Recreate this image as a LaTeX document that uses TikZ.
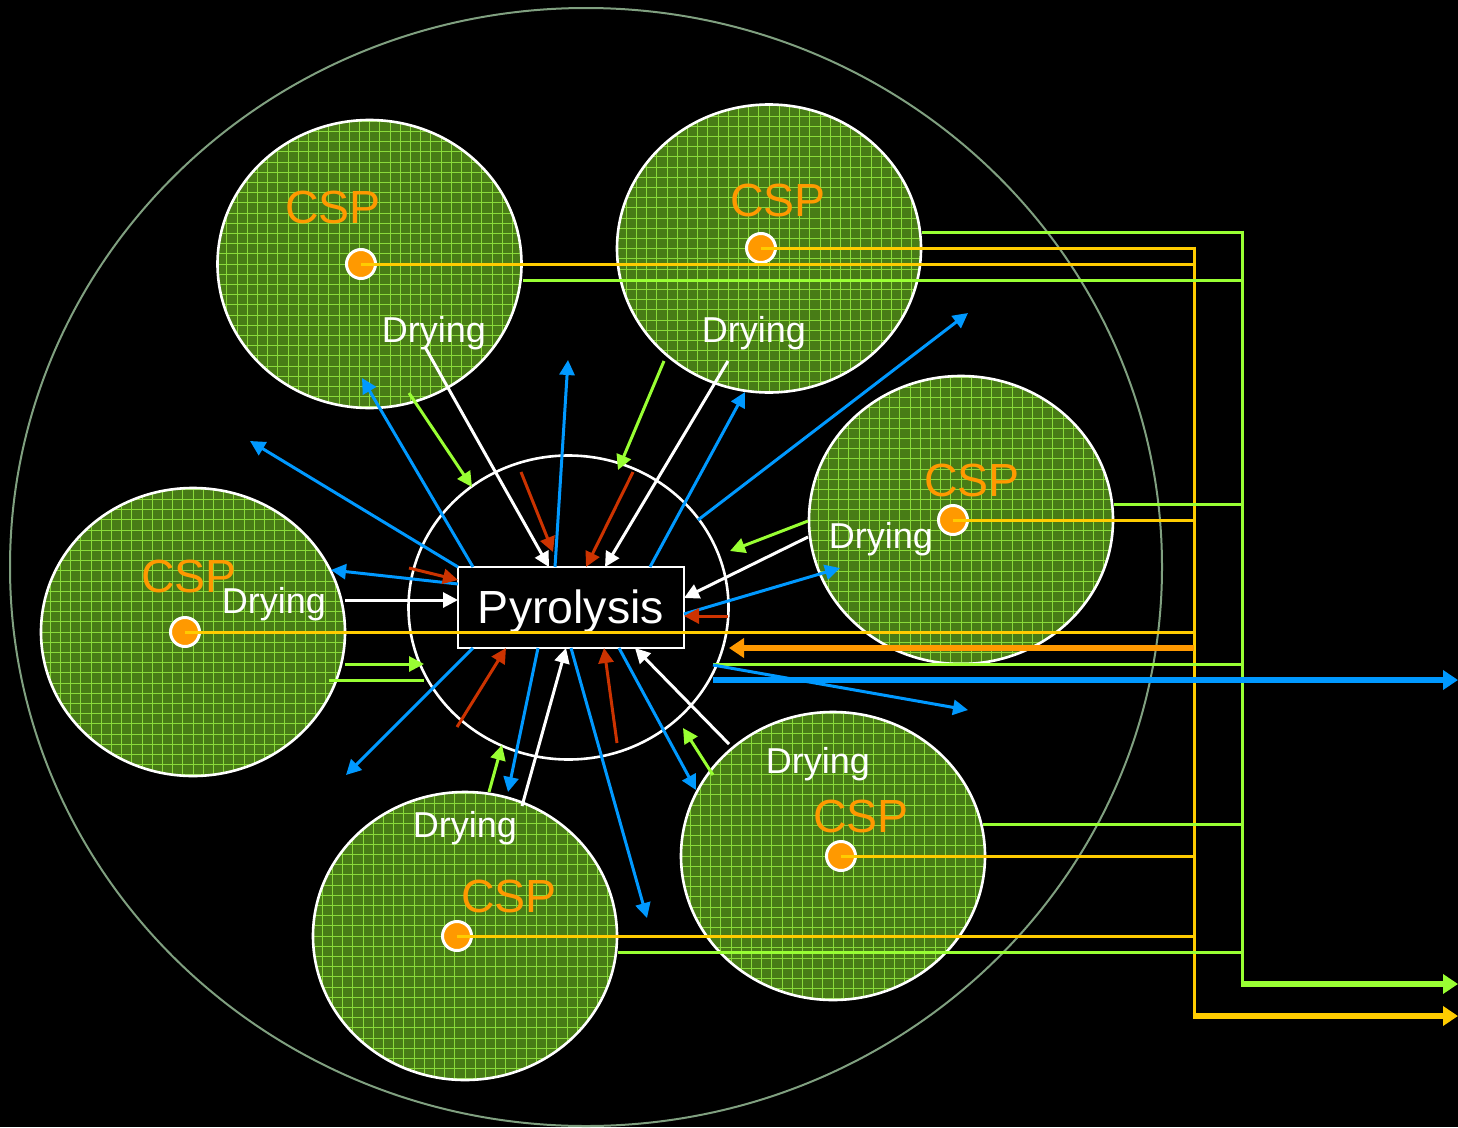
\documentclass[tikz,border=0pt]{standalone}
\usepackage{fontspec}
\setmainfont{Liberation Sans}
\usetikzlibrary{arrows.meta,shapes.geometric}
\definecolor{cspor}{RGB}{255,153,0}
\definecolor{pipey}{RGB}{255,204,0}
\definecolor{lgreen}{RGB}{153,255,51}
\definecolor{fblue}{RGB}{0,153,255}
\definecolor{fred}{RGB}{204,51,0}
\definecolor{ufill}{RGB}{72,124,22}
\definecolor{ugrid}{RGB}{138,218,58}
\definecolor{rim}{RGB}{128,160,128}

\begin{document}
\begin{tikzpicture}[x=1pt,y=-1pt,
  unit/.style={ellipse, draw=white, line width=2.6pt, fill=ufill,
    minimum width=304pt, minimum height=288pt, inner sep=0pt,
    path picture={\draw[ugrid, line width=0.8pt, step=10.2pt]
      (path picture bounding box.south west) grid (path picture bounding box.north east);}},
  dotnode/.style={circle, fill=cspor, draw=white, line width=3pt, minimum size=29pt, inner sep=0pt},
  csp/.style={text=cspor, font=\fontsize{46.5}{50}\selectfont, anchor=base, inner sep=0pt},
  dry/.style={text=white, font=\fontsize{36}{40}\selectfont, anchor=base, inner sep=0pt},
  arrowhd/.style={-{Triangle[length=15pt,width=15pt]}},
  bigarrowhd/.style={-{Triangle[length=15pt,width=19pt]}},
  bflow/.style={draw=fblue, line width=3pt, arrowhd},
  wflow/.style={draw=white, line width=3pt, arrowhd},
  rflow/.style={draw=fred, line width=3pt, arrowhd},
  gflow/.style={draw=lgreen, line width=3pt, arrowhd},
  gline/.style={draw=lgreen, line width=3pt},
  ypipe/.style={draw=pipey, line width=3pt},
  gpipe/.style={draw=lgreen, line width=3pt},
  ythick/.style={draw=pipey, line width=5.5pt, bigarrowhd},
  gthick/.style={draw=lgreen, line width=5.5pt, bigarrowhd},
  othick/.style={draw=cspor, line width=5.5pt, bigarrowhd},
  bthick/.style={draw=fblue, line width=5.5pt, bigarrowhd}]

% canvas
\useasboundingbox (0,0) rectangle (1458,1127);
\fill[black] (0,0) rectangle (1458,1127);

% plant boundary
\node[ellipse, draw=rim, line width=2pt, minimum width=1152pt, minimum height=1118pt, inner sep=0pt] (site) at (586,567) {};

% solar units
\node[unit] (c1) at (369.5,264) {};
\node[unit] (c2) at (769,248.5) {};
\node[unit] (c3) at (961,520) {};
\node[unit] (c4) at (193,632) {};
\node[unit] (c5) at (465,936) {};
\node[unit] (c6) at (833,856) {};

% unit labels
\node[csp] (csp1) at (333,223) {CSP};
\node[csp] (csp2) at (778,216) {CSP};
\node[csp] (csp3) at (972,496) {CSP};
\node[csp] (csp4) at (189,592) {CSP};
\node[csp] (csp5) at (509,912) {CSP};
\node[csp] (csp6) at (861,832) {CSP};
\node[dry] (dry1) at (434,342) {Drying};
\node[dry] (dry2) at (754,342) {Drying};
\node[dry] (dry3) at (881,548) {Drying};
\node[dry] (dry4) at (274,613) {Drying};
\node[dry] (dry5) at (465,837) {Drying};
\node[dry] (dry6) at (818,773) {Drying};

% pyrolysis zone and reactor
\node[ellipse, draw=white, line width=2.6pt, minimum width=320pt, minimum height=304pt, inner sep=0pt] (ring) at (568.5,607.5) {};
\node[draw=white, fill=black, line width=2.7pt, minimum width=226pt, minimum height=81pt,
      inner sep=0pt, outer sep=0pt, text=white, font=\fontsize{46.5}{50}\selectfont,
      text height=33pt, text depth=2pt] (pyro) at (571,607.5) {Pyrolysis};

% receivers
\node[dotnode] (d1) at (361,264) {};
\node[dotnode] (d2) at (761,248) {};
\node[dotnode] (d3) at (953,520) {};
\node[dotnode] (d4) at (185,632) {};
\node[dotnode] (d5) at (457,936) {};
\node[dotnode] (d6) at (841,856) {};

% collector buses
\coordinate (ybus) at (1194,248);
\coordinate (ybot) at (1194,1016);
\coordinate (gbus) at (1242,232);
\coordinate (gbot) at (1242,984);
\coordinate (outY) at (1458,1016);
\coordinate (outG) at (1458,984);

% heat-transfer lines from the receivers
\foreach \d in {d1,d2,d3,d4,d5,d6}
  \draw[ypipe] (\d.center) -- (\d.center -| ybus);
\draw[ypipe] ([yshift=1.5pt]ybus) -- (ybot);
\draw[ythick] ([xshift=-1.5pt]ybot) -- (outY);

% green return lines
\coordinate (gp1) at ([yshift=16pt]c2.east);
\coordinate (gp2) at ([yshift=-16pt]c1.east);
\coordinate (gp3) at ([yshift=16pt]c3.east);
\coordinate (gp4) at (713,664);
\coordinate (gp5) at (983,824);
\coordinate (gp6) at ([yshift=-16pt]c5.east);
\foreach \p in {gp1,gp2,gp3,gp4,gp5,gp6}
  \draw[gpipe] (\p) -- (\p -| gbus);
\draw[gpipe] ([yshift=1.5pt]gbus) -- (gbot);
\draw[gthick] ([xshift=-1.5pt]gbot) -- (outG);

% heat supply back to the reactor and product export
\coordinate (oin) at (1194,648);
\coordinate (otip) at (729,648);
\draw[othick] (oin) -- (otip);
\coordinate (bMs) at (713,680);
\coordinate (bM) at (1458,680);
\draw[bthick] (bMs) -- (bM);

% blue flows out of the reactor
\coordinate (bA) at (362,378);
\coordinate (bB) at (568,360);
\coordinate (bC) at (745,392);
\coordinate (bDs) at (698,520);
\coordinate (bD) at (968,313);
\coordinate (bE) at (840,568);
\coordinate (bF) at (331,570);
\coordinate (bG) at (250,441);
\coordinate (bH) at (346,775);
\coordinate (bI) at (508,792);
\coordinate (bJ) at (647,918);
\coordinate (bK) at (696,790);
\coordinate (bLs) at (713,665);
\coordinate (bL) at (968,710);
\draw[bflow] ([xshift=15pt]pyro.north west) -- (bA);
\draw[bflow] ([xshift=97pt]pyro.north west) -- (bB);
\draw[bflow] ([xshift=192pt]pyro.north west) -- (bC);
\draw[bflow] (bDs) -- (bD);
\draw[bflow] ([yshift=-47pt]pyro.north east) -- (bE);
\draw[bflow] ([yshift=-17pt]pyro.north west) -- (bF);
\draw[bflow] (pyro.north west) -- (bG);
\draw[bflow] ([xshift=15pt]pyro.south west) -- (bH);
\draw[bflow] ([xshift=80pt]pyro.south west) -- (bI);
\draw[bflow] ([xshift=113pt]pyro.south west) -- (bJ);
\draw[bflow] ([xshift=161pt]pyro.south west) -- (bK);
\draw[bflow] (bLs) -- (bL);

% dried feed into the reactor
\coordinate (wAs) at (425,347);
\coordinate (wBs) at (728,361);
\coordinate (wCs) at (808,537);
\coordinate (wDs) at (345,600);
\coordinate (wEs) at (522,806);
\coordinate (wFs) at (729,744);
\draw[wflow] (wAs) -- ([xshift=91pt]pyro.north west);
\draw[wflow] (wBs) -- ([xshift=147pt]pyro.north west);
\draw[wflow] (wCs) -- ([yshift=-31pt]pyro.north east);
\draw[wflow] (wDs) -- ([yshift=-33pt]pyro.north west);
\draw[wflow] (wEs) -- ([xshift=108pt]pyro.south west);
\draw[wflow] (wFs) -- ([xshift=177pt]pyro.south west);

% red flows into the reactor
\coordinate (rAs) at (521,472);
\coordinate (rA) at (553,552);
\coordinate (rBs) at (633,472);
\coordinate (rCs) at (409,568);
\coordinate (rDs) at (728,616);
\coordinate (rEs) at (457,727);
\coordinate (rFs) at (617,743);
\draw[rflow] (rAs) -- (rA);
\draw[rflow] (rBs) -- ([xshift=128pt]pyro.north west);
\draw[rflow] (rCs) -- ([yshift=-13pt]pyro.north west);
\draw[rflow] (rDs) -- ([yshift=-49pt]pyro.north east);
\draw[rflow] (rEs) -- ([xshift=48pt]pyro.south west);
\draw[rflow] (rFs) -- ([xshift=146pt]pyro.south west);

% green flows between units and the reactor zone
\coordinate (gAs) at (409,393);
\coordinate (gA) at (472,487);
\coordinate (gBs) at (664,361);
\coordinate (gB) at (618,470);
\coordinate (gCs) at (808,521);
\coordinate (gC) at (730,551);
\coordinate (gDs) at (345,664);
\coordinate (gD) at (424,664);
\coordinate (gEs) at (329,680);
\coordinate (gE) at (424,680);
\coordinate (gFs) at (489,792);
\coordinate (gF) at (502,745);
\coordinate (gGs) at (713,775);
\coordinate (gG) at (683,728);
\draw[gflow] (gAs) -- (gA);
\draw[gflow] (gBs) -- (gB);
\draw[gflow] (gCs) -- (gC);
\draw[gflow] (gDs) -- (gD);
\draw[gline] (gEs) -- (gE);
\draw[gflow] (gFs) -- (gF);
\draw[gflow] (gGs) -- (gG);

\end{tikzpicture}
\end{document}
